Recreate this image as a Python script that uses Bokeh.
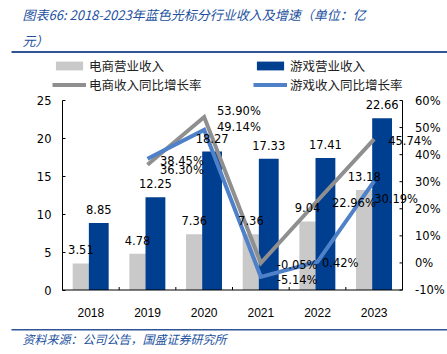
from bokeh.plotting import figure
from bokeh.layouts import column
from bokeh.models import (ColumnDataSource, Range1d, SingleIntervalTicker, FixedTicker,
                          LabelSet, Label, Legend, LegendItem, BoxAnnotation)
from bokeh.transform import dodge
from bokeh.core.properties import value
from bokeh.embed import file_html
from bokeh.resources import INLINE

# ---------------- data ----------------
years = ["2018", "2019", "2020", "2021", "2022", "2023"]
ecom_rev = [3.51, 4.78, 7.36, 7.36, 9.04, 13.18]
game_rev = [8.85, 12.25, 18.27, 17.33, 17.41, 22.66]
growth_years = ["2019", "2020", "2021", "2022", "2023"]
ecom_growth = [36.30, 53.90, -0.05, 22.96, 45.74]
game_growth = [38.45, 49.14, -5.14, 0.42, 30.19]
rev_ticks = [0, 5, 10, 15, 20, 25]
pct_ticks = [-10, 0, 10, 20, 30, 40, 50, 60]

title_line1 = "图表66: 2018-2023年蓝色光标分行业收入及增速（单位：亿"
title_line2 = "元）"
source_text = "资料来源：公司公告，国盛证券研究所"
legend_labels = ["电商营业收入", "游戏营业收入", "电商收入同比增长率", "游戏收入同比增长率"]

# label offsets (screen px, layout only)
ecom_dx = [12.5, 12.8, 16, 14.5, 14]
ecom_dy = [-5.8, 6.5, -2.4, -2.7, -1.4]
game_dx = [12.5, 12.8, 16, 4.5, 0]
game_dy = [-1.7, 3.0, -2.7, -1.7, -18]

GRAY_BAR = "#C9C9C9"
BLUE_BAR = "#003F8F"
GRAY_LINE = "#8F8F8F"
BLUE_LINE = "#4F81C8"
TITLE_BLUE = "#23519E"
RULE_BLUE = "#2F5597"
NUM_FONT = "DejaVu Sans"
CJK_FONT = "Noto Sans CJK SC"

# ---------------- geometry ----------------
W = 447
TOP_H, MAIN_H, BOT_H = 93, 226, 35
LEFT = 62            # left border of the main chart
AXIS_W = 340         # width of the category area (plot area)
RIGHT_EXTRA = W - LEFT - AXIS_W
PAD_TOP, PAD_BOT = 7, 7.5   # room above / below the value area for axis texts
VAL_H = 189.5        # height of the value area
XLAB_H = MAIN_H - PAD_TOP - VAL_H - PAD_BOT

n = len(years)
px_x = AXIS_W / n
rev_lo, rev_hi = rev_ticks[0], rev_ticks[-1]
pct_lo, pct_hi = pct_ticks[0], pct_ticks[-1]
px_rev = VAL_H / (rev_hi - rev_lo)
px_pct = VAL_H / (pct_hi - pct_lo)


def blank_fig(h):
    f = figure(width=W, height=h, x_range=Range1d(0, W), y_range=Range1d(h, 0),
               output_backend="svg", toolbar_location=None, min_border=0,
               x_axis_type=None, y_axis_type=None, frame_align=False)
    f.title.visible = False
    f.outline_line_color = None
    f.xgrid.grid_line_color = None
    f.ygrid.grid_line_color = None
    return f


# ---------------- header: title, rule, legend ----------------
top = blank_fig(TOP_H)
for txt, yy in ((title_line1, 13.5), (title_line2, 40)):
    top.add_layout(Label(x=22, y=yy, text=txt, text_baseline="middle", text_font=CJK_FONT,
                         text_font_size="13px", text_font_style="italic",
                         text_color=TITLE_BLUE))
top.add_layout(BoxAnnotation(left=11, right=W, top=50.5, bottom=52.5,
                             fill_color=RULE_BLUE, fill_alpha=1, line_color=None))

off = [-1000, -999]   # swatch renderers kept off-screen; only legend glyphs show
d1 = top.vbar(x=off[:1], top=[0], width=1, fill_color=GRAY_BAR, line_color=None)
d2 = top.vbar(x=off[:1], top=[0], width=1, fill_color=BLUE_BAR, line_color=None)
d3 = top.line(x=off, y=[0, 0], line_color=GRAY_LINE, line_width=4)
d4 = top.line(x=off, y=[0, 0], line_color=BLUE_LINE, line_width=4)
common = dict(glyph_width=34, glyph_height=11, label_standoff=3, spacing=0, padding=0,
              margin=0, border_line_color=None, background_fill_alpha=0,
              label_text_font=CJK_FONT, label_text_font_size="12.5px",
              label_text_color="#222222", label_height=12)
top.add_layout(Legend(items=[LegendItem(label=legend_labels[0], renderers=[d1]),
                             LegendItem(label=legend_labels[2], renderers=[d3])],
                      location=(52, -1), **common))
top.add_layout(Legend(items=[LegendItem(label=legend_labels[1], renderers=[d2]),
                             LegendItem(label=legend_labels[3], renderers=[d4])],
                      location=(253, -1), **common))

# ---------------- main chart ----------------
x_end = n * (AXIS_W + RIGHT_EXTRA) / AXIS_W
p = figure(width=W, height=MAIN_H,
           x_range=Range1d(0, x_end),
           y_range=Range1d(rev_lo - PAD_BOT / px_rev, rev_hi + PAD_TOP / px_rev),
           output_backend="svg", toolbar_location=None, frame_align=False,
           min_border_left=LEFT, min_border_right=0, min_border_top=0,
           min_border_bottom=int(XLAB_H))
p.title.visible = False
p.outline_line_color = None
p.xgrid.grid_line_color = None
p.ygrid.grid_line_color = None
p.extra_y_ranges = {"pct": Range1d(pct_lo - PAD_BOT / px_pct, pct_hi + PAD_TOP / px_pct)}

centers = [i + 0.5 for i in range(n)]
bsrc = ColumnDataSource(dict(xc=centers, ecom=ecom_rev, game=game_rev,
                             ecom_txt=[f"{v:.2f}" for v in ecom_rev],
                             game_txt=[f"{v:.2f}" for v in game_rev]))
p.vbar(x=dodge("xc", -0.175), top="ecom", width=0.29,
       source=bsrc, fill_color=GRAY_BAR, line_color=None)
p.vbar(x=dodge("xc", 0.14), top="game", width=0.35,
       source=bsrc, fill_color=BLUE_BAR, line_color=None)

gx = [years.index(y) + 0.5 for y in growth_years]
gsrc = ColumnDataSource(dict(xc=gx, ecom=ecom_growth, game=game_growth,
                             ecom_txt=[f"{v:.2f}%" for v in ecom_growth],
                             game_txt=[f"{v:.2f}%" for v in game_growth],
                             edx=ecom_dx, edy=ecom_dy, gdx=game_dx, gdy=game_dy))
p.line("xc", "ecom", source=gsrc, y_range_name="pct", line_color=GRAY_LINE,
       line_width=4, line_join="miter")
p.line("xc", "game", source=gsrc, y_range_name="pct", line_color=BLUE_LINE,
       line_width=4, line_join="miter")

lab_style = dict(text_font=value(NUM_FONT), text_font_size=value("11.5px"),
                 text_color=value("black"))
for col, dx in (("ecom", -0.175), ("game", 0.14)):
    p.add_layout(LabelSet(x=dodge("xc", dx), y=col, text=col + "_txt",
                          source=bsrc, text_align="center", text_baseline="middle",
                          y_offset=13.5, **lab_style))
p.add_layout(LabelSet(x="xc", y="ecom", text="ecom_txt", source=gsrc, y_range_name="pct",
                      x_offset="edx", y_offset="edy", text_align="left",
                      text_baseline="middle", **lab_style))
p.add_layout(LabelSet(x="xc", y="game", text="game_txt", source=gsrc, y_range_name="pct",
                      x_offset="gdx", y_offset="gdy", text_align="left",
                      text_baseline="middle", **lab_style))

# left axis (real axis, limited to the value area)
ya = p.yaxis[0]
ya.ticker = FixedTicker(ticks=rev_ticks)
ya.bounds = (rev_lo, rev_hi)
ya.major_tick_in = 3
ya.major_tick_out = 0
ya.minor_tick_line_color = None
ya.axis_line_color = "black"
ya.major_tick_line_color = "black"
ya.major_label_standoff = 11
ya.major_label_text_font = NUM_FONT
ya.major_label_text_font_size = "11.5px"
ya.major_label_text_color = "black"

# category axis: labels from the axis, base line drawn on the value 0
xa = p.xaxis[0]
xa.ticker = FixedTicker(ticks=centers)
xa.major_label_overrides = {c: y for c, y in zip(centers, years)}
xa.major_tick_line_color = None
xa.axis_line_color = None
xa.major_label_standoff = 4
xa.major_label_text_font = "Liberation Sans"
xa.major_label_text_font_size = "12px"
xa.major_label_text_color = "black"
p.segment(x0=[0], x1=[n], y0=[rev_lo], y1=[rev_lo], line_color="black", line_width=1)
bounds = list(range(1, n))
p.segment(x0=bounds, x1=bounds, y0=[rev_lo] * len(bounds),
          y1=[rev_lo + 3 / px_rev] * len(bounds), line_color="black", line_width=1)

# right (percentage) axis on the right edge of the category area
p.segment(x0=[n], x1=[n], y0=[pct_lo], y1=[pct_hi], y_range_name="pct",
          line_color="black", line_width=1)
p.segment(x0=[n] * len(pct_ticks), x1=[n - 3 / px_x] * len(pct_ticks),
          y0=pct_ticks, y1=pct_ticks, y_range_name="pct", line_color="black", line_width=1)
p.text(x=[n] * len(pct_ticks), y=pct_ticks, text=[f"{t}%" for t in pct_ticks],
       y_range_name="pct", x_offset=12.5, text_align="left", text_baseline="middle",
       text_font=value(NUM_FONT), text_font_size=value("11.5px"), text_color="black")

# ---------------- footer: rule, source ----------------
bot = blank_fig(BOT_H)
bot.add_layout(BoxAnnotation(left=11, right=W, top=9.5, bottom=11,
                             fill_color=RULE_BLUE, fill_alpha=1, line_color=None))
bot.add_layout(Label(x=22, y=19, text=source_text, text_baseline="middle",
                     text_font=CJK_FONT, text_font_size="12px", text_font_style="italic",
                     text_color=TITLE_BLUE))

layout = column(top, p, bot, spacing=0)
open("out.html", "w").write(file_html(layout, INLINE))
